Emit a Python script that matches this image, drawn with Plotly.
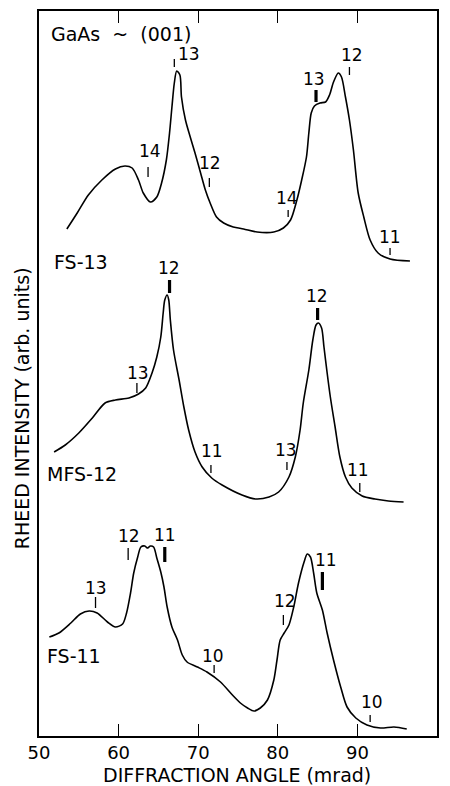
import plotly.graph_objects as go

# ---------------- data (diffraction angle in mrad, intensity in arb. units) ----------------
fs13_x = [53.5, 54.8, 56.2, 57.9, 59.6, 60.8, 61.7, 62.5, 63.1, 64.0, 64.8, 65.4, 66.0, 66.4, 66.7,
          67.0, 67.3, 67.7, 67.9, 68.4, 69.0, 69.6, 70.3, 70.9, 71.5, 72.3, 73.2, 74.4, 75.7, 77.4,
          79.5, 80.7, 81.6, 82.4, 83.0, 83.6, 83.9, 84.2, 84.6, 85.3, 86.0, 86.5, 87.0, 87.6, 88.0,
          88.5, 89.0, 89.5, 90.1, 90.8, 91.6, 92.6, 94.1, 96.6]
fs13_y = [507, 523, 541, 556, 567, 570, 568, 556, 543, 534, 539, 553, 576, 603, 629,
          653, 665, 661, 639, 616, 599, 583, 563, 546, 533, 519, 513, 509, 507, 504,
          504, 508, 516, 536, 556, 579, 603, 623, 630, 633, 634, 641, 654, 663, 659,
          639, 616, 586, 543, 519, 496, 483, 477, 475]

mfs12_x = [51.9, 53.3, 55.0, 56.7, 58.3, 59.6, 61.3, 62.5, 63.4, 64.2, 64.8, 65.3, 65.6, 65.8, 66.1,
           66.3, 66.5, 66.9, 67.6, 68.2, 68.8, 69.6, 70.5, 71.7, 73.0, 75.5, 77.2, 78.9, 80.1, 81.4,
           82.2, 82.8, 83.2, 83.9, 84.4, 84.8, 85.1, 85.5, 85.8, 86.2, 86.6, 87.2, 87.8, 88.5, 89.3,
           90.6, 92.2, 93.9, 95.8]
mfs12_y = [284, 291, 303, 318, 333, 336, 338, 342, 348, 363, 379, 399, 423, 436, 441,
           436, 416, 386, 356, 329, 306, 284, 269, 258, 251, 241, 237, 239, 244, 259,
           279, 306, 333, 366, 396, 411, 413, 408, 389, 363, 339, 309, 279, 259, 248,
           240, 237, 235, 234]

fs11_x = [51.3, 52.5, 54.0, 55.2, 56.3, 57.3, 58.6, 59.6, 60.5, 61.0, 61.5, 61.9, 62.4, 62.8, 63.3,
          63.6, 64.0, 64.4, 64.8, 65.3, 65.7, 66.1, 66.7, 67.4, 68.0, 68.6, 69.9, 71.1, 72.8, 74.3,
          75.3, 76.2, 77.0, 77.8, 78.7, 79.5, 79.9, 80.3, 80.8, 81.4, 82.0, 82.6, 83.3, 83.7, 84.1,
          84.5, 84.9, 85.6, 86.2, 87.0, 87.9, 88.7, 89.8, 91.2, 92.9, 94.6, 96.2]
fs11_y = [99, 103, 113, 122, 125, 123, 114, 109, 112, 123, 143, 163, 179, 189, 190,
          188, 190, 189, 178, 164, 149, 129, 109, 96, 81, 74, 69, 64, 54, 41,
          33, 28, 25, 28, 36, 56, 76, 96, 103, 111, 129, 153, 174, 182, 179,
          163, 143, 126, 103, 76, 49, 29, 18, 11, 8, 9, 7]

# index markers (thin and bold): x position, lower and upper end
thin_x = [67.0, 63.7, 71.4, 81.3, 89.0, 94.1, 62.3, 71.6, 81.15, 90.3, 57.1, 61.2, 72.0, 80.7, 91.6]
thin_y0 = [669, 559, 549, 519, 661, 481, 343, 263, 266, 244, 128, 176, 63, 111, 14]
thin_y1 = [677, 569, 558, 526, 669, 488, 353, 271, 274, 253, 139, 188, 71, 121, 21]
bold_x = [84.8, 66.4, 85.0, 65.8, 85.6]
bold_y0 = [634, 443, 416, 174, 146]
bold_y1 = [646, 456, 428, 189, 164]

# index numbers
label_text = ["13", "14", "12", "14", "13", "12", "11",
              "12", "13", "11", "12", "13", "11",
              "13", "12", "11", "10", "12", "11", "10"]
label_x = [68.8, 63.9, 71.5, 81.2, 84.6, 89.3, 94.1,
           66.3, 62.45, 71.7, 84.9, 81.0, 90.1,
           57.2, 61.3, 65.8, 71.9, 80.9, 86.0, 91.8]
label_y = [682, 585, 573, 538, 657, 681, 499,
           468, 363, 285, 440, 286, 266,
           148, 200, 201, 80, 135, 176, 34]

# curve names
name_text = ["GaAs  ~  (001)", "FS-13", "MFS-12", "FS-11"]
name_x = [51.3, 51.6, 50.7, 50.8]
name_y = [702, 474, 262, 80]

x_ticks = [50, 60, 70, 80, 90, 100]
x_title = "DIFFRACTION ANGLE (mrad)"
y_title = "RHEED INTENSITY (arb. units)"

FONT = "DejaVu Sans"

fig = go.Figure()
for xs, ys in [(fs13_x, fs13_y), (mfs12_x, mfs12_y), (fs11_x, fs11_y)]:
    fig.add_trace(go.Scatter(x=xs, y=ys, mode="lines",
                             line=dict(color="black", width=1.6, shape="spline", smoothing=0.8),
                             showlegend=False, hoverinfo="skip"))


def segs(xs, y0s, y1s):
    sx, sy = [], []
    for a, b, c in zip(xs, y0s, y1s):
        sx += [a, a, None]
        sy += [b, c, None]
    return sx, sy


tx, ty = segs(thin_x, thin_y0, thin_y1)
fig.add_trace(go.Scatter(x=tx, y=ty, mode="lines", line=dict(color="black", width=1.3),
                         showlegend=False, hoverinfo="skip"))
bx, by = segs(bold_x, bold_y0, bold_y1)
fig.add_trace(go.Scatter(x=bx, y=by, mode="lines", line=dict(color="black", width=3.2),
                         showlegend=False, hoverinfo="skip"))

for t, x, y in zip(label_text, label_x, label_y):
    fig.add_annotation(x=x, y=y, text=t, showarrow=False, xanchor="center", yanchor="middle",
                       font=dict(family=FONT, size=17, color="black"))

for t, x, y in zip(name_text, name_x, name_y):
    fig.add_annotation(x=x, y=y, text=t.replace(" ", "&nbsp;"),
                       showarrow=False, xanchor="left", yanchor="middle",
                       font=dict(family=FONT, size=19, color="black"))

# axis titles
fig.add_annotation(xref="paper", yref="paper", x=0.4975, y=-0.0538, text=x_title, showarrow=False,
                   xanchor="center", yanchor="middle", font=dict(family=FONT, size=19, color="black"))
fig.add_annotation(xref="paper", yref="paper", x=-0.0427, y=0.452, text=y_title, showarrow=False,
                   textangle=-90, xanchor="center", yanchor="middle",
                   font=dict(family=FONT, size=19, color="black"))

# the page body adds an 8 px offset, so the figure is sized to sit inside the 450x786 window
fig.update_layout(
    width=442, height=778,
    margin=dict(l=31, r=13, t=3, b=50),
    paper_bgcolor="white", plot_bgcolor="white",
    font=dict(family=FONT, color="black"),
    xaxis=dict(range=[50, 100], tickvals=x_ticks, ticktext=[str(v) for v in x_ticks],
               ticks="inside", ticklen=12, tickwidth=1.3, tickcolor="black",
               showline=True, linecolor="black", linewidth=1.6, mirror="ticks",
               showgrid=False, zeroline=False, automargin=False,
               tickfont=dict(family=FONT, size=18, color="black")),
    yaxis=dict(range=[0, 725], showticklabels=False, ticks="",
               showline=True, linecolor="black", linewidth=1.6, mirror=True,
               showgrid=False, zeroline=False, automargin=False),
)

fig.write_html("out.html")
